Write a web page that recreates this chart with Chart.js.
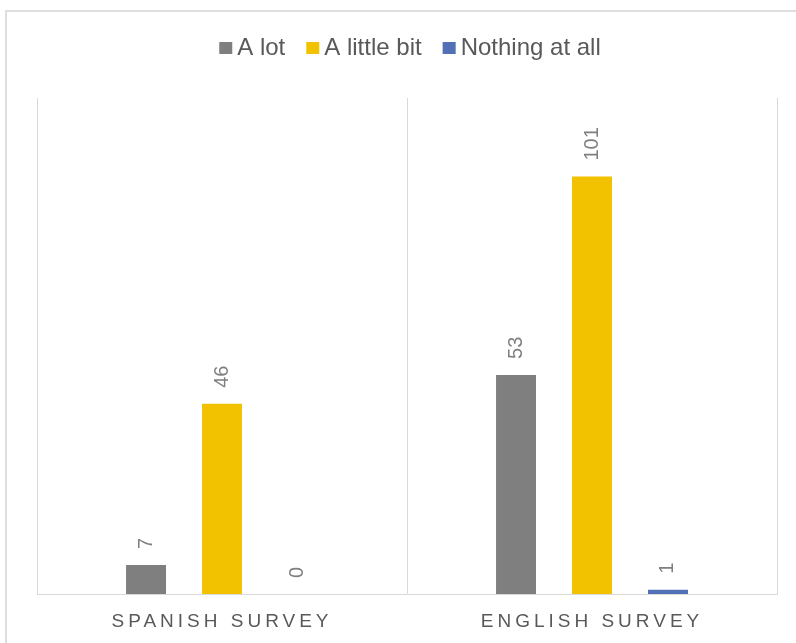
<!DOCTYPE html>
<html>
<head>
<meta charset="utf-8">
<script src="https://cdn.jsdelivr.net/npm/chart.js@4.4.1/dist/chart.umd.min.js"></script>
<style>
  html, body { margin: 0; padding: 0; overflow: hidden; background: #fff; }
  #frame {
    position: absolute; left: 5px; top: 10px; width: 900px; height: 800px;
    border: 2px solid #dedede; box-sizing: border-box;
  }
  #wrap { position: absolute; left: 0; top: 0; width: 796px; height: 643px; }
</style>
</head>
<body>
<div id="frame"></div>
<div id="wrap"><canvas id="surveyChart"></canvas></div>
<script>
const categories = ["SPANISH SURVEY", "ENGLISH SURVEY"];
const seriesNames = ["A lot", "A little bit", "Nothing at all"];
const aLot = [7, 53];
const aLittleBit = [46, 101];
const nothingAtAll = [0, 1];
const seriesColors = ["#7f7f7f", "#f2c200", "#5170b5"];
const yMax = 120;

const FONT = '"Liberation Sans", Arial, sans-serif';

// legend drawn by hand so the swatch/text gaps stay tight
const surveyLegend = {
  id: "surveyLegend",
  afterDraw(chart) {
    const ctx = chart.ctx;
    const items = chart.data.datasets;
    ctx.save();
    ctx.font = "24px " + FONT;
    ctx.textBaseline = "middle";
    ctx.textAlign = "left";
    const box = 13, gap = 5, spacing = 21;
    const widths = items.map((ds) => box + gap + ctx.measureText(ds.label).width);
    const total = widths.reduce((a, b) => a + b, 0) + spacing * (items.length - 1);
    const area = chart.chartArea;
    let x = (area.left + area.right) / 2 - total / 2 + 3;
    const y = 48;
    items.forEach((ds, i) => {
      ctx.fillStyle = ds.backgroundColor;
      ctx.fillRect(x, y - 6, box, 12);
      ctx.fillStyle = "#595959";
      ctx.fillText(ds.label, x + box + gap, y);
      x += widths[i] + spacing;
    });
    ctx.restore();
  },
};

// spaced-out category labels, then rotated value labels above each bar
const barLabels = {
  id: "barLabels",
  beforeDraw(chart) {
    chart.ctx.letterSpacing = "4px";
  },
  beforeDatasetsDraw(chart) {
    chart.ctx.letterSpacing = "0px";
  },
  afterDatasetsDraw(chart) {
    const ctx = chart.ctx;
    ctx.save();
    ctx.font = "20px " + FONT;
    ctx.fillStyle = "#7f7f7f";
    ctx.textAlign = "left";
    ctx.textBaseline = "middle";
    chart.data.datasets.forEach((ds, i) => {
      chart.getDatasetMeta(i).data.forEach((bar, j) => {
        ctx.save();
        ctx.translate(bar.x, bar.y - 16);
        ctx.rotate(-Math.PI / 2);
        ctx.fillText(String(ds.data[j]), 0, 0);
        ctx.restore();
      });
    });
    ctx.restore();
  },
};

const seriesValues = [aLot, aLittleBit, nothingAtAll];

const config = {
  type: "bar",
  data: {
    labels: categories,
    datasets: seriesNames.map((name, i) => ({
      label: name,
      data: seriesValues[i],
      backgroundColor: seriesColors[i],
      borderWidth: 0,
      categoryPercentage: 0.616,
      barPercentage: 0.526,
    })),
  },
  options: {
    responsive: true,
    maintainAspectRatio: false,
    animation: false,
    layout: {
      padding: { left: 37, right: 19, top: 98, bottom: 0 },
    },
    plugins: {
      legend: { display: false },
      tooltip: { enabled: false },
    },
    scales: {
      x: {
        offset: true,
        grid: {
          offset: true,
          color: "#d9d9d9",
          lineWidth: 1,
          drawTicks: false,
        },
        border: { display: true, color: "#d9d9d9", width: 1 },
        ticks: {
          color: "#595959",
          font: { family: FONT, size: 19 },
          padding: 16,
          maxRotation: 0,
          autoSkip: false,
        },
        afterFit: (scale) => {
          scale.height = 49;
        },
      },
      y: {
        display: false,
        min: 0,
        max: yMax,
      },
    },
  },
  plugins: [barLabels, surveyLegend],
};

new Chart(document.getElementById("surveyChart"), config);
</script>
</body>
</html>
